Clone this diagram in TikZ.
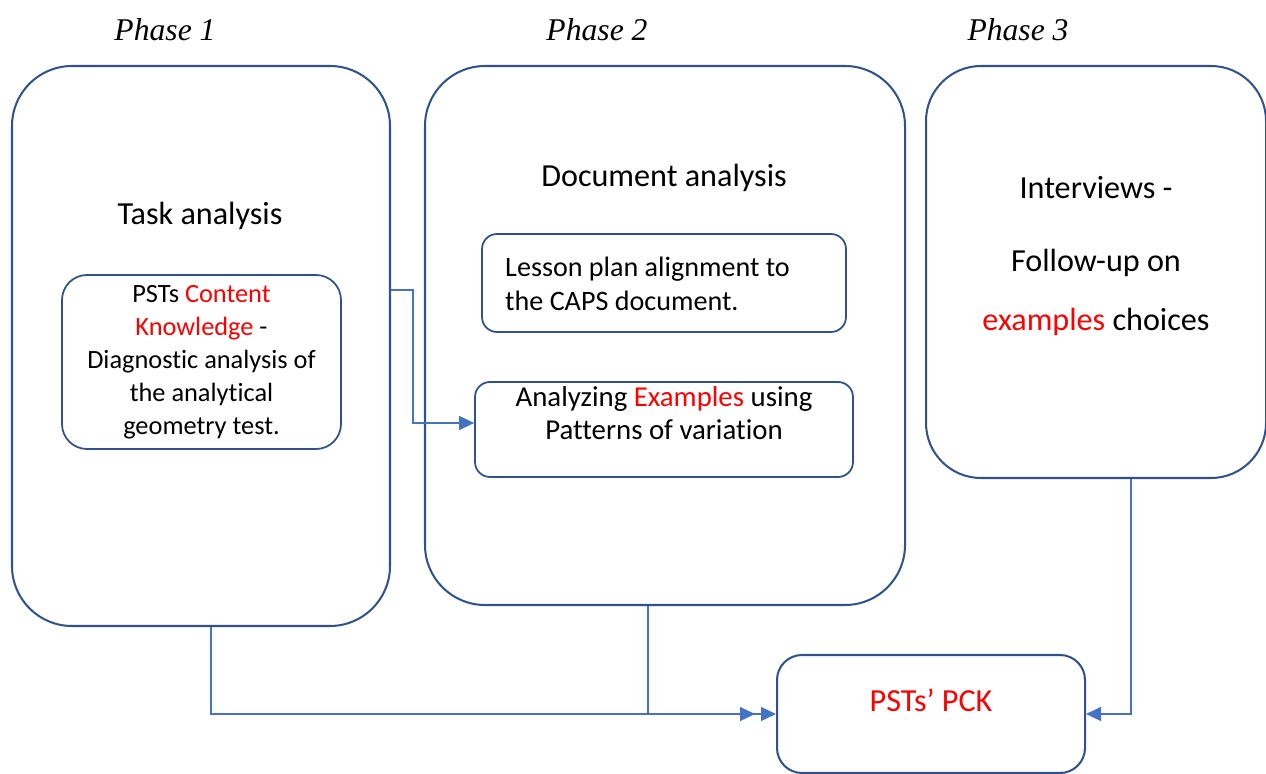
\documentclass[tikz,border=0pt]{standalone}
\usepackage{fontspec}
\setmainfont[Ligatures=CommonOff]{Carlito}
\newfontfamily\phasefont{Liberation Serif}
\usepackage{xcolor}
\usetikzlibrary{arrows.meta,positioning,calc}
\definecolor{phsedge}{HTML}{2F528F}
\definecolor{phslink}{HTML}{4472C4}
\definecolor{phsred}{HTML}{FF0000}

\begin{document}
\begin{tikzpicture}[
  x=1cm,y=1cm,
  phase/.style={draw=phsedge,line width=1.15pt,rounded corners=1.2cm},
  inbox/.style={draw=phsedge,line width=1pt,align=center,font=\fontsize{15}{18.8}\selectfont},
  title/.style={font=\fontsize{18.3}{22.5}\selectfont,align=center},
  plabel/.style={font=\phasefont\itshape\fontsize{18}{22}\selectfont},
  link/.style={-{Triangle[length=0.3cm,width=0.28cm]},draw=phslink,line width=0.7pt},
]
\useasboundingbox (0,0) rectangle (25.32,-15.48);

% Phase headings
\node[plabel] (h1) at (3.30,-0.60) {Phase 1};
\node[plabel] (h2) at (11.94,-0.60) {Phase 2};
\node[plabel] (h3) at (20.36,-0.60) {Phase 3};

% Outer phase boxes
\node[phase,minimum width=7.56cm,minimum height=11.2cm] (p1) at (4.02,-6.92) {};
\node[phase,minimum width=9.6cm,minimum height=10.78cm] (p2) at (13.30,-6.71) {};
\node[phase,rounded corners=1.1cm,minimum width=6.8cm,minimum height=8.24cm] (p3) at (21.92,-5.44) {};

\node[title] (task) at (4.00,-4.32) {Task analysis};
\node[title] (doc) at (13.28,-3.56) {Document analysis};
\node[title] (intv) at (21.92,-5.12)
  {Interviews -\\[0.66cm]Follow-up on\\[0.38cm]\textcolor{phsred}{examples} choices};

% Inner boxes
\node[inbox,rounded corners=0.5cm,minimum width=5.58cm,minimum height=3.48cm] (ck) at (4.03,-7.24)
  {PSTs \textcolor{phsred}{Content}\\\textcolor{phsred}{Knowledge} -\\Diagnostic analysis of\\the analytical\\geometry test.};
\node[inbox,rounded corners=0.3cm,minimum width=7.28cm,minimum height=1.96cm] (lp) at (13.28,-5.66) {};
\node[align=left,anchor=west,font=\fontsize{16}{19}\selectfont] (lptext) at (9.98,-5.68)
  {Lesson plan alignment to\\the CAPS document.};
\node[inbox,rounded corners=0.3cm,minimum width=7.56cm,minimum height=1.9cm] (ex) at (13.28,-8.59) {};
\node[align=center,font=\fontsize{16.4}{19}\selectfont] (extext) at (13.28,-8.26)
  {Analyzing \textcolor{phsred}{Examples} using\\Patterns of variation};

% Outcome box
\node[phase,rounded corners=0.5cm,minimum width=6.16cm,minimum height=2.36cm] (pck) at (18.62,-14.28) {};
\node[title,text=phsred] (pcktext) at (18.62,-14.0) {PSTs’ PCK};

% Connectors
\draw[link] (p1.east |- 0,-5.8) -- (8.26,-5.8) |- ([yshift=0.13cm]ex.west);
\draw[link] (p1.south -| 4.22,0) |- ([xshift=-0.42cm]pck.west);
\draw[link] (p2.south -| 12.96,0) |- (pck.west);
\draw[link] (p3.south -| 22.62,0) |- (pck.east);
\end{tikzpicture}
\end{document}
